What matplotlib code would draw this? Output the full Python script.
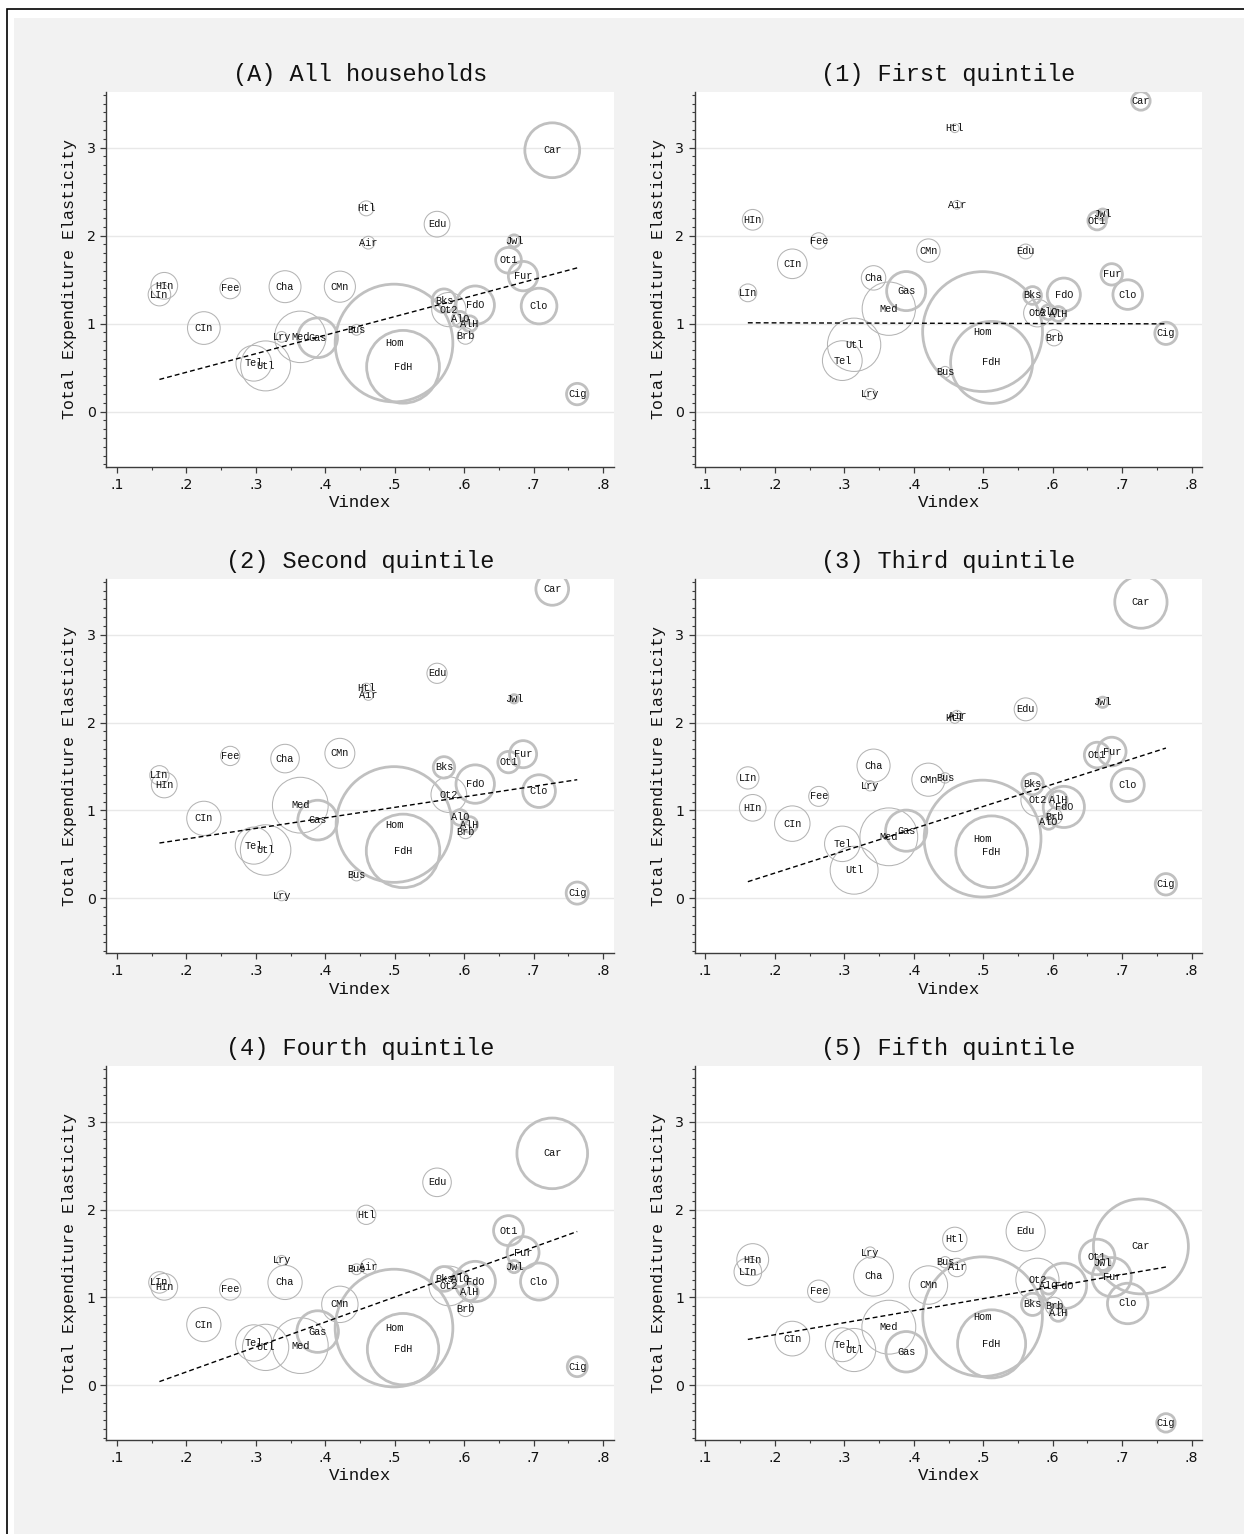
import matplotlib
matplotlib.use("Agg")
import matplotlib.pyplot as plt
from matplotlib.patches import Rectangle
import numpy as np

W, H = 1244, 1534
DPI = 100

cats = ["Car", "Htl", "Air", "Edu", "Jwl", "Ot1", "Fur", "Clo", "Cig", "HIn",
        "LIn", "Fee", "Cha", "CMn", "CIn", "Lry", "Med", "Gas", "Bus", "Tel",
        "Utl", "Hom", "FdH", "Bks", "Ot2", "FdO", "AlO", "AlH", "Brb"]
vindex = [0.727, 0.459, 0.462, 0.561, 0.672, 0.664, 0.685, 0.708, 0.763, 0.168,
          0.161, 0.263, 0.342, 0.421, 0.225, 0.337, 0.364, 0.389, 0.445, 0.297,
          0.314, 0.499, 0.512, 0.571, 0.578, 0.616, 0.594, 0.608, 0.602]
goods = ["Car", "Jwl", "Ot1", "Fur", "Clo", "Cig", "Gas", "Hom", "FdH", "Bks",
         "FdO", "AlO", "AlH"]

titles = ["(A) All households", "(1) First quintile", "(2) Second quintile",
          "(3) Third quintile", "(4) Fourth quintile", "(5) Fifth quintile"]

# elasticities by panel (same order as cats)
elas_all = [2.97, 2.31, 1.92, 2.13, 1.94, 1.72, 1.54, 1.20, 0.20, 1.43,
            1.33, 1.40, 1.42, 1.42, 0.95, 0.85, 0.85, 0.84, 0.93, 0.55,
            0.52, 0.78, 0.51, 1.26, 1.16, 1.21, 1.05, 1.00, 0.86]
elas_q1 = [3.53, 3.22, 2.35, 1.82, 2.24, 2.17, 1.56, 1.33, 0.89, 2.18,
           1.35, 1.94, 1.52, 1.83, 1.68, 0.20, 1.17, 1.37, 0.45, 0.58,
           0.76, 0.91, 0.56, 1.32, 1.12, 1.33, 1.13, 1.11, 0.84]
elas_q2 = [3.52, 2.39, 2.31, 2.56, 2.27, 1.55, 1.64, 1.22, 0.06, 1.29,
           1.40, 1.62, 1.59, 1.65, 0.91, 0.03, 1.06, 0.89, 0.26, 0.60,
           0.55, 0.84, 0.54, 1.49, 1.18, 1.30, 0.92, 0.84, 0.76]
elas_q3 = [3.37, 2.05, 2.08, 2.15, 2.23, 1.63, 1.67, 1.29, 0.16, 1.03,
           1.37, 1.16, 1.51, 1.35, 0.85, 1.28, 0.70, 0.77, 1.37, 0.62,
           0.32, 0.68, 0.53, 1.30, 1.12, 1.04, 0.87, 1.12, 0.93]
elas_q4 = [2.64, 1.94, 1.35, 2.31, 1.35, 1.76, 1.51, 1.18, 0.21, 1.12,
           1.17, 1.09, 1.17, 0.92, 0.69, 1.42, 0.45, 0.61, 1.32, 0.48,
           0.43, 0.65, 0.41, 1.21, 1.13, 1.18, 1.21, 1.06, 0.87]
elas_q5 = [1.58, 1.66, 1.34, 1.75, 1.39, 1.46, 1.23, 0.93, -0.43, 1.43,
           1.29, 1.07, 1.24, 1.14, 0.53, 1.51, 0.66, 0.38, 1.40, 0.46,
           0.40, 0.78, 0.47, 0.92, 1.20, 1.13, 1.13, 0.82, 0.90]

# bubble weights (expenditure weight, arbitrary units)
wt_all = [59, 4.4, 3.2, 13, 2.9, 13, 17, 25, 9, 14,
          10, 8.4, 20, 19, 21, 2.3, 52, 31, 2.3, 25,
          49, 272, 104, 11, 23, 29, 4.8, 4.8, 5.3]
wt_q1 = [6.7, 1.5, 1.5, 4.3, 2.4, 6.7, 9.0, 17.2, 9.7, 8.4,
         6.2, 5.2, 11.7, 10.7, 17.2, 2.5, 55.8, 30, 2.5, 31,
         55.8, 282, 132, 6.2, 15, 21.5, 4.3, 4.3, 5.2]
wt_q2 = [21, 2, 2, 8, 1.4, 9, 14.4, 21, 9.6, 13,
         7.3, 7.3, 16, 17.6, 23, 2, 61, 31, 2.3, 27,
         50, 263, 106, 9, 25, 29, 4.8, 4.8, 4]
wt_q3 = [53.7, 2.1, 2.1, 10.3, 2.1, 12.9, 16.1, 21.5, 9.0, 13.9,
         9.7, 7.8, 21.5, 21.5, 24.7, 2.1, 65.5, 33.3, 2.1, 24.7,
         45, 268, 101, 9.0, 21.5, 33.3, 4.3, 6.2, 5.2]
wt_q4 = [98, 7.3, 4.8, 16, 2.9, 17.6, 20, 27, 7.8, 14,
         9, 9, 23, 26, 23, 2, 61, 34, 2.3, 26,
         42, 272, 100, 12, 31, 32, 4.8, 5.8, 4.8]
wt_q5 = [177, 11.7, 6.7, 30, 4.3, 24.7, 30, 32.2, 6.7, 19.9,
         15, 9.7, 31, 29, 23.6, 2.5, 57, 32.2, 2.5, 22.5,
         36.5, 281, 91, 9.7, 36.5, 40.8, 5.2, 5.2, 6.2]

# weighted fit: intercept, slope
fit_intercept = [0.027, 1.013, 0.437, -0.217, -0.417, 0.30]
fit_slope = [2.106, -0.02, 1.196, 2.525, 2.84, 1.37]

elas = [elas_all, elas_q1, elas_q2, elas_q3, elas_q4, elas_q5]
weights = [wt_all, wt_q1, wt_q2, wt_q3, wt_q4, wt_q5]

MONO = ["Liberation Mono", "DejaVu Sans Mono"]
SANS = ["DejaVu Sans"]
GRID_C = "#e8e8e8"
AXIS_C = "#3c3c3c"
THICK_C = "#c0c0c0"
THIN_C = "#b4b4b4"
BG = "#f2f2f2"

# pixel boxes (left, top, right, bottom)
col_x = [(106.4, 613.6), (694.8, 1202.3)]
row_y = [(91.7, 466.7), (578.8, 953.3), (1066.0, 1440.0)]
title_y = [75, 562, 1049]
ylab_x = [70, 659]
xlab_dy = 36

fig = plt.figure(figsize=(W / DPI, H / DPI), dpi=DPI, facecolor="white")

# outer frame and grey graph region
fig.patches.append(Rectangle((7 / W, -0.01), 1, 1.01 - 9 / H, transform=fig.transFigure,
                             facecolor="white", edgecolor="black", linewidth=1.2, zorder=-20))
fig.patches.append(Rectangle((14 / W, -0.01), 1, 1.01 - 18 / H, transform=fig.transFigure,
                             facecolor=BG, edgecolor="none", zorder=-10))

x = np.array(vindex)
is_good = np.array([c in goods for c in cats])
x_fit = np.array([x.min(), x.max()])

for i in range(6):
    r, c = divmod(i, 2)
    x0, x1 = col_x[c]
    y0, y1 = row_y[r]
    ax = fig.add_axes([x0 / W, 1 - y1 / H, (x1 - x0) / W, (y1 - y0) / H])
    ax.set_zorder(5)
    ax.set_facecolor("white")
    ax.set_xlim(0.0846, 0.8154)
    ax.set_ylim(-0.625, 3.635)

    y = np.array(elas[i])
    s = 26.4 * np.array(weights[i])

    ax.scatter(x[~is_good], y[~is_good], s=s[~is_good], facecolors="none",
               edgecolors=THIN_C, linewidths=0.75, zorder=3)
    ax.scatter(x[is_good], y[is_good], s=s[is_good], facecolors="none",
               edgecolors=THICK_C, linewidths=2.0, zorder=3)
    for xi, yi, lab in zip(x, y, cats):
        ax.text(xi, yi, lab, ha="center", va="center", fontsize=7.4,
                family=MONO, color="#111111", zorder=4)

    ax.plot(x_fit, fit_intercept[i] + fit_slope[i] * x_fit, color="black",
            linewidth=1.0, linestyle=(0, (3.5, 2.2)), zorder=5)

    ax.set_yticks([0, 1, 2, 3])
    ax.set_yticks(np.round(np.arange(-0.6, 3.61, 0.1), 2), minor=True)
    ax.set_xticks([0.1, 0.2, 0.3, 0.4, 0.5, 0.6, 0.7, 0.8])
    ax.set_xticks(np.arange(0.15, 0.8, 0.1), minor=True)
    ax.set_xticklabels([".1", ".2", ".3", ".4", ".5", ".6", ".7", ".8"])
    ax.set_yticklabels(["0", "1", "2", "3"])
    ax.grid(axis="y", which="major", color=GRID_C, linewidth=1.0, zorder=0)
    ax.set_axisbelow(True)
    for side in ("top", "right"):
        ax.spines[side].set_visible(False)
    for side in ("left", "bottom"):
        ax.spines[side].set_color(AXIS_C)
        ax.spines[side].set_linewidth(1.0)
    ax.tick_params(which="major", length=4.3, width=0.9, color=AXIS_C,
                   labelsize=10.2, pad=3.5)
    ax.tick_params(which="minor", length=2.5, width=0.8, color=AXIS_C)
    for lab in ax.get_xticklabels() + ax.get_yticklabels():
        lab.set_family(SANS)
        lab.set_color("#111111")

    fig.text((x0 + x1) / 2 / W, 1 - title_y[r] / H, titles[i], ha="center",
             va="center", fontsize=17, family=MONO, color="#111111")
    fig.text(ylab_x[c] / W, 1 - (y0 + y1) / 2 / H, "Total Expenditure Elasticity",
             rotation=90, ha="center", va="center", fontsize=12, family=MONO,
             color="#111111")
    fig.text((x0 + x1) / 2 / W, 1 - (y1 + xlab_dy) / H, "Vindex", ha="center",
             va="center", fontsize=12.5, family=MONO, color="#111111")

fig.savefig("out.png", dpi=DPI, facecolor="white")
